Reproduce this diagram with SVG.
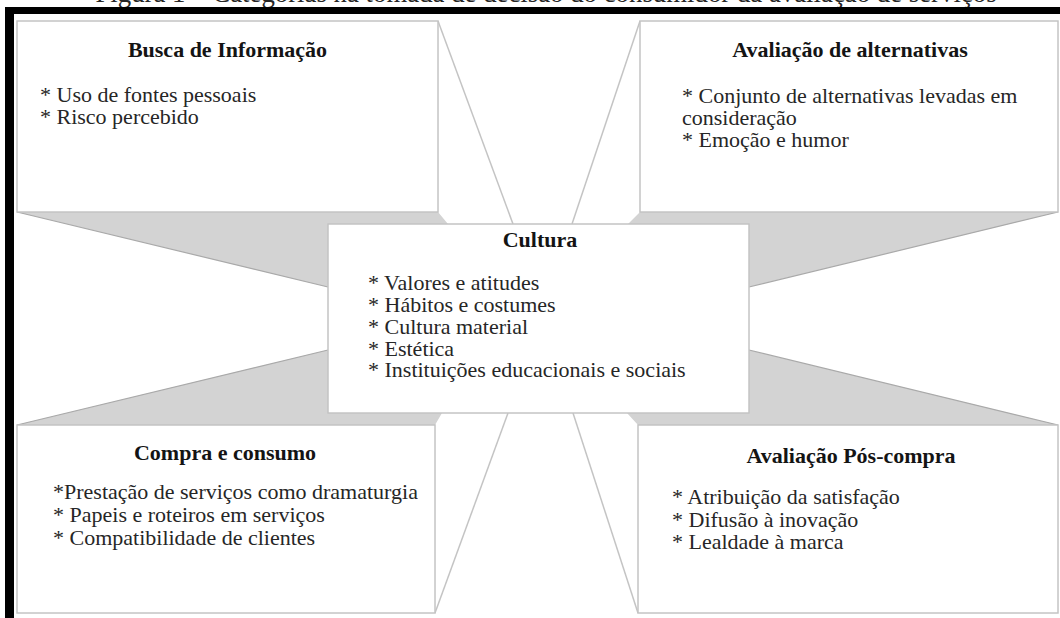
<svg xmlns="http://www.w3.org/2000/svg" width="1060" height="618" viewBox="0 0 1060 618">
<style>
text { font-family: "Liberation Serif", "Times New Roman", serif; fill: #262626; }
.title { font-size: 22px; font-weight: bold; text-anchor: middle; fill: #141414; }
.body { font-size: 22px; }
.box { fill: #ffffff; stroke: #c4c4c4; stroke-width: 1.5; }
.shade { fill: #d3d3d3; stroke: none; }
.edge { stroke: #a9a9a9; stroke-width: 1.2; fill: none; }
.thin { stroke: #c4c4c4; stroke-width: 1.5; fill: none; }
</style>
<rect x="0" y="0" width="1060" height="618" fill="#ffffff"/>
<text x="546" y="1.5" style="font-size:26.8px" text-anchor="middle">Figura 1 – Categorias na tomada de decisão do consumidor da avaliação de serviços</text>
<g id="frame">
<rect x="5" y="7" width="1055" height="7" fill="#000"/>
<rect x="5" y="7" width="9" height="611" fill="#000"/>
</g>
<g id="connectors">
<polygon class="shade" points="17,212 438,212 448,224 328,224 328,287"/>
<polygon class="shade" points="1058,212 640,212 628,224 749,224 749,287"/>
<polygon class="shade" points="17,425 435,425 442,413 328,413 328,350"/>
<polygon class="shade" points="1058,425 638,425 627,413 749,413 749,350"/>
<line class="edge" x1="17" y1="212" x2="328" y2="287"/>
<line class="edge" x1="1058" y1="212" x2="749" y2="287"/>
<line class="edge" x1="17" y1="425" x2="328" y2="350"/>
<line class="edge" x1="1058" y1="425" x2="749" y2="350"/>
<line class="thin" x1="438" y1="21" x2="513" y2="224"/>
<line class="thin" x1="640" y1="21" x2="572" y2="224"/>
<line class="thin" x1="435" y1="613" x2="508" y2="413"/>
<line class="thin" x1="638" y1="613" x2="573" y2="413"/>
</g>
<g id="busca">
<rect class="box" x="17" y="21" width="421" height="191"/>
<text class="title" x="227.5" y="57">Busca de Informação</text>
<text class="body" x="40" y="102">* Uso de fontes pessoais</text>
<text class="body" x="40" y="124">* Risco percebido</text>
</g>
<g id="avaliacao-alternativas">
<rect class="box" x="640" y="21" width="418" height="191"/>
<text class="title" x="850" y="57">Avaliação de alternativas</text>
<text class="body" x="682" y="103">* Conjunto de alternativas levadas em</text>
<text class="body" x="682" y="125">consideração</text>
<text class="body" x="682" y="147">* Emoção e humor</text>
</g>
<g id="cultura">
<rect class="box" x="328" y="224" width="421" height="189"/>
<text class="title" x="540" y="247">Cultura</text>
<text class="body" x="368" y="290">* Valores e atitudes</text>
<text class="body" x="368" y="312">* Hábitos e costumes</text>
<text class="body" x="368" y="334">* Cultura material</text>
<text class="body" x="368" y="355.5">* Estética</text>
<text class="body" x="368" y="377">* Instituições educacionais e sociais</text>
</g>
<g id="compra-consumo">
<rect class="box" x="17" y="425" width="418" height="188"/>
<text class="title" x="225" y="460">Compra e consumo</text>
<text class="body" x="53" y="499">*Prestação de serviços como dramaturgia</text>
<text class="body" x="53" y="522">* Papeis e roteiros em serviços</text>
<text class="body" x="53" y="545">* Compatibilidade de clientes</text>
</g>
<g id="avaliacao-pos-compra">
<rect class="box" x="638" y="425" width="420" height="188"/>
<text class="title" x="851" y="463">Avaliação Pós-compra</text>
<text class="body" x="672" y="504">* Atribuição da satisfação</text>
<text class="body" x="672" y="527">* Difusão à inovação</text>
<text class="body" x="672" y="549">* Lealdade à marca</text>
</g>
</svg>
